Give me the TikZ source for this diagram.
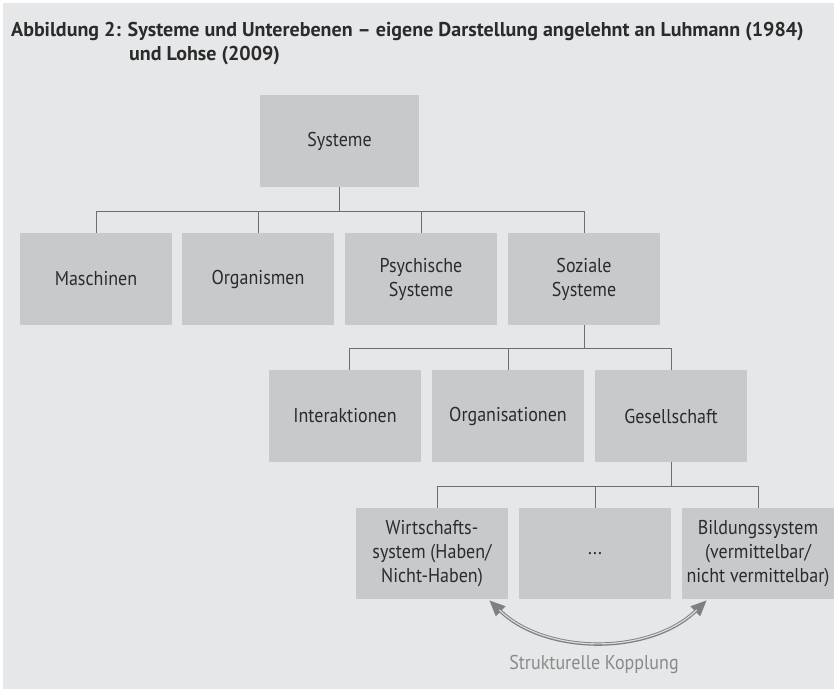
\documentclass[tikz,border=0pt]{standalone}
\usepackage{fontspec}
\setmainfont{PT Sans}
\newfontfamily\boxfont{PT Sans}[FakeStretch=0.9]
\usetikzlibrary{arrows.meta,calc}
\definecolor{bg}{HTML}{E6E7E8}
\definecolor{boxc}{HTML}{C8C9CA}
\definecolor{linec}{HTML}{6D6E70}
\definecolor{txt}{HTML}{2B2B2B}
\definecolor{arrc}{HTML}{7F7F7F}
\definecolor{arrin}{HTML}{DCDCDC}
\definecolor{lab}{HTML}{8A8A8A}
\begin{document}
\begin{tikzpicture}[x=1pt,y=-1pt,
  box/.style={fill=boxc, minimum width=152pt, minimum height=92pt, inner sep=0pt, align=center, text=txt, font=\boxfont\fontsize{20}{24}\selectfont},
  conn/.style={draw=linec, line width=1pt},
  ttl/.style={anchor=base west, inner sep=0pt, text=txt, font=\fontsize{20}{24}\selectfont\bfseries}]
\useasboundingbox (0,0) rectangle (838,691);
\fill[white] (0,0) rectangle (838,691);
\fill[bg] (3,3) rectangle (834,689);
\node[ttl] (t1) at (11,36) {Abbildung 2: Systeme und Unterebenen -- eigene Darstellung angelehnt an Luhmann (1984)};
\node[ttl] (t2) at (129,60) {und Lohse (2009)};
\node[box, minimum width=159pt] (sys) at (339.5,141) {Systeme};
\node[box] (masch) at (96,279) {Maschinen};
\node[box] (org) at (258,279) {Organismen};
\node[box] (psy) at (421,279) {Psychische\\Systeme};
\node[box] (soz) at (584,279) {Soziale\\Systeme};
\node[box] (inter) at (345,416) {Interaktionen};
\node[box] (orga) at (508,416) {Organisationen};
\node[box] (ges) at (671,416) {Gesellschaft};
\node[box, minimum height=91pt] (wirt) at (432,553.5) {Wirtschafts-\\system (Haben/\\Nicht-Haben)};
\node[box, minimum height=91pt] (dots) at (595,553.5) {...};
\node[box, minimum height=91pt] (bild) at (758,553.5) {Bildungssystem\\(vermittelbar/\\nicht vermittelbar)};
% level 1
\draw[conn] (sys.south) -- ++(0,24) coordinate (b1);
\draw[conn] (masch.north) -- (masch.north |- b1) -- (soz.north |- b1) -- (soz.north);
\draw[conn] (org.north) -- (org.north |- b1);
\draw[conn] (psy.north) -- (psy.north |- b1);
% level 2
\draw[conn] (soz.south) -- ++(0,23) coordinate (b2);
\draw[conn] ($(inter.north)+(4,0)$) -- ($(inter.north |- b2)+(4,0)$) -- (ges.north |- b2) -- (ges.north);
\draw[conn] (orga.north) -- (orga.north |- b2);
% level 3
\draw[conn] (ges.south) -- ++(0,24) coordinate (b3);
\draw[conn] ($(wirt.north)+(5,0)$) -- ($(wirt.north |- b3)+(5,0)$) -- (bild.north |- b3) -- (bild.north);
\draw[conn] (dots.north) -- (dots.north |- b3);
% structural coupling
\coordinate (kl) at ($(wirt.south east)+(-19,1)$);
\coordinate (kr) at ($(bild.south west)+(25,1)$);
\draw[arrc, line width=3.4pt, {Triangle[length=16pt,width=13pt]}-{Triangle[length=16pt,width=13pt]}]
  (kl) .. controls ($(kl)+(57,55)$) and ($(kr)+(-57,55)$) .. (kr);
\draw[arrin, line width=1.2pt, shorten <=14pt, shorten >=14pt]
  (kl) .. controls ($(kl)+(57,55)$) and ($(kr)+(-57,55)$) .. (kr);
\node[text=lab, font=\boxfont\fontsize{20}{24}\selectfont, inner sep=0pt, anchor=base] (lbl) at (594,669) {Strukturelle Kopplung};
\end{tikzpicture}
\end{document}
